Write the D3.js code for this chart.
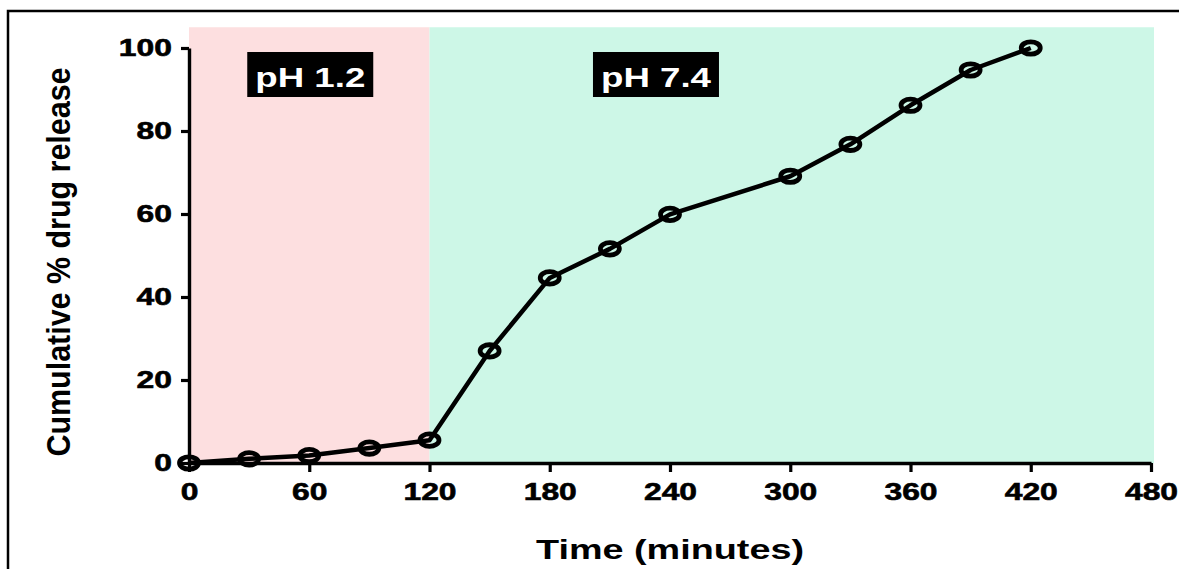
<!DOCTYPE html>
<html>
<head>
<meta charset="utf-8">
<script src="https://cdn.jsdelivr.net/npm/d3@7"></script>
<style>
  body { margin: 0; background: #fff; }
  svg { display: block; font-family: "Liberation Sans", Arial, sans-serif; font-weight: bold; }
</style>
</head>
<body>
<svg id="chart" width="1179" height="569"></svg>
<script>
// release profile (time in minutes, cumulative % released)
const times = [0, 30, 60, 90, 120, 150, 180, 210, 240, 300, 330, 360, 390, 420];
const release = [0, 1, 1.8, 3.6, 5.5, 27, 44.6, 51.6, 59.9, 69.1, 76.8, 86.2, 94.7, 100];

// medium phases
const phaseNames = ["pH 1.2", "pH 7.4"];
const phaseStart = [0, 120];
const phaseEnd = [120, 481.5];
const phaseColors = ["#fddfe0", "#cdf7e7"];
const phaseLabelAt = [60.5, 233];

const xTicks = [0, 60, 120, 180, 240, 300, 360, 420, 480];
const yTicks = [0, 20, 40, 60, 80, 100];

const svg = d3.select("#chart");
const stretch = 1.3;

const x = d3.scaleLinear().domain([0, 480]).range([189, 1151]);
const y = d3.scaleLinear().domain([0, 100]).range([463, 48]);

// outer frame
svg.append("rect")
  .attr("x", 8).attr("y", 11)
  .attr("width", 1200).attr("height", 600)
  .attr("fill", "none").attr("stroke", "#000").attr("stroke-width", 2.5);

// phase backgrounds
svg.append("g").selectAll("rect")
  .data(phaseNames)
  .join("rect")
  .attr("x", (d, i) => x(phaseStart[i]))
  .attr("width", (d, i) => x(phaseEnd[i]) - x(phaseStart[i]))
  .attr("y", y(105))
  .attr("height", y(0) - y(105))
  .attr("fill", (d, i) => phaseColors[i]);

// phase labels
const lab = svg.append("g").selectAll("g")
  .data(phaseNames)
  .join("g")
  .attr("transform", (d, i) => `translate(${x(phaseLabelAt[i])}, 0)`);
lab.append("rect")
  .attr("x", -63).attr("y", 52)
  .attr("width", 126).attr("height", 45)
  .attr("fill", "#000");
lab.append("text")
  .attr("text-anchor", "middle")
  .attr("y", 87)
  .attr("fill", "#fff")
  .style("font-size", "27px")
  .attr("textLength", 110)
  .attr("lengthAdjust", "spacingAndGlyphs")
  .text(d => d);

// axes
const xAxis = svg.append("g")
  .attr("transform", `translate(0, ${y(0)})`)
  .call(d3.axisBottom(x).tickValues(xTicks).tickSize(9).tickPadding(11).tickSizeOuter(0));
const yAxis = svg.append("g")
  .attr("transform", `translate(${x(0)}, 0)`)
  .call(d3.axisLeft(y).tickValues(yTicks).tickSize(8).tickPadding(9).tickSizeOuter(0));

[xAxis, yAxis].forEach(g => {
  g.select(".domain").attr("stroke-width", 3.4);
  g.selectAll(".tick line").attr("stroke-width", 3.2);
  g.selectAll(".tick text")
    .attr("fill", "#000")
    .attr("stroke", "#000")
    .attr("stroke-width", 0.6)
    .style("font-size", "24.5px")
    .style("font-family", "'Liberation Sans', Arial, sans-serif")
    .style("font-weight", "bold")
    .attr("x", function() { return (+d3.select(this).attr("x") || 0) / stretch; })
    .attr("transform", `scale(${stretch},1)`);
});

// line and markers
const line = d3.line().x((d, i) => x(times[i])).y(d => y(d));
svg.append("path")
  .datum(release)
  .attr("d", line)
  .attr("fill", "none")
  .attr("stroke", "#000")
  .attr("stroke-width", 4.5)
  .attr("stroke-linejoin", "round");

svg.append("g").selectAll("ellipse")
  .data(release)
  .join("ellipse")
  .attr("cx", (d, i) => x(times[i]))
  .attr("cy", d => y(d))
  .attr("rx", 9.5).attr("ry", 6.2)
  .attr("fill", "none")
  .attr("stroke", "#000")
  .attr("stroke-width", 4.8);

// axis titles
svg.append("text")
  .attr("text-anchor", "middle")
  .attr("x", 670).attr("y", 559)
  .style("font-size", "27px")
  .attr("textLength", 268)
  .attr("lengthAdjust", "spacingAndGlyphs")
  .text("Time (minutes)");

svg.append("text")
  .attr("text-anchor", "middle")
  .attr("transform", "translate(70, 262) rotate(-90)")
  .style("font-size", "34px")
  .attr("textLength", 389)
  .attr("lengthAdjust", "spacingAndGlyphs")
  .text("Cumulative % drug release");
</script>
</body>
</html>
